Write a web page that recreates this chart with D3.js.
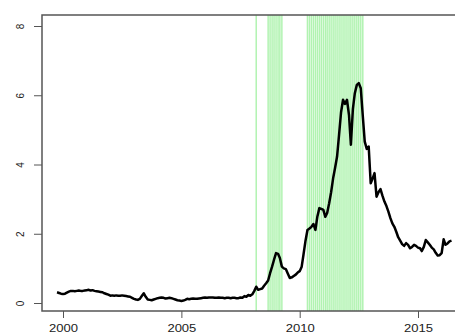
<!DOCTYPE html>
<html>
<head>
<meta charset="utf-8">
<script src="https://cdn.jsdelivr.net/npm/d3@7"></script>
<style>
  body { margin: 0; background: #fff; }
  text { font-family: "Liberation Sans", Arial, sans-serif; fill: #222; }
</style>
</head>
<body>
<div id="wrapper"></div>
<script>
// monthly values, first one is Oct 1999
const startMonth = "1999-10";
const values = [
  0.31, 0.29, 0.27,
  0.26, 0.27, 0.30, 0.33, 0.35, 0.35, 0.34, 0.35, 0.36, 0.35, 0.35, 0.36,
  0.37, 0.38, 0.36, 0.37, 0.35, 0.34, 0.33, 0.32, 0.31, 0.28, 0.26, 0.24,
  0.21, 0.22, 0.21, 0.22, 0.21, 0.21, 0.22, 0.21, 0.20, 0.19, 0.18, 0.15,
  0.12, 0.10, 0.09, 0.12, 0.20, 0.28, 0.18, 0.10, 0.09, 0.08, 0.10, 0.12,
  0.14, 0.15, 0.16, 0.15, 0.13, 0.14, 0.15, 0.14, 0.12, 0.10, 0.08, 0.07,
  0.06, 0.07, 0.09, 0.12, 0.11, 0.12, 0.13, 0.12, 0.12, 0.13, 0.14, 0.15,
  0.16, 0.15, 0.16, 0.16, 0.16, 0.15, 0.15, 0.16, 0.15, 0.15, 0.14, 0.15,
  0.15, 0.14, 0.15, 0.15, 0.14, 0.14, 0.16, 0.15, 0.20, 0.18, 0.23, 0.21,
  0.25, 0.35, 0.47, 0.38, 0.40, 0.42, 0.50, 0.57, 0.65, 0.86, 1.05, 1.25,
  1.44, 1.42, 1.30, 1.05, 1.00, 0.98, 0.85, 0.72, 0.74, 0.78, 0.82, 0.88,
  0.92, 1.05, 1.40, 1.80, 2.11, 2.15, 2.20, 2.28, 2.11, 2.50, 2.74, 2.72,
  2.69, 2.49, 2.60, 2.88, 3.20, 3.60, 3.90, 4.23, 4.86, 5.50, 5.87, 5.75,
  5.87, 5.43, 4.57, 5.60, 6.06, 6.30, 6.35, 6.20, 5.40, 4.66, 4.45, 4.52,
  3.46, 3.60, 3.75, 3.07, 3.20, 3.29, 3.10, 2.93, 2.80, 2.64, 2.45, 2.30,
  2.20, 2.05, 1.90, 1.80, 1.70, 1.65, 1.73, 1.68, 1.58, 1.62, 1.68, 1.65,
  1.60, 1.58, 1.50, 1.62, 1.82, 1.75, 1.68, 1.60, 1.55, 1.45, 1.37, 1.38,
  1.44, 1.84, 1.68, 1.72, 1.78, 1.80
];
// months marked with green vertical lines (first, last)
const flagRanges = [
  ["2008-03", "2008-03"],
  ["2008-09", "2009-04"],
  ["2010-05", "2012-09"]
];
const xTicks = [2000, 2005, 2010, 2015];
const yTicks = [0, 2, 4, 6, 8];

const parseMonth = d3.timeParse("%Y-%m");
const dateAccessor = (d, i) => d3.timeMonth.offset(parseMonth(startMonth), i);
const data = values.map((v, i) => ({ date: dateAccessor(v, i), value: v }));

const flagMonths = flagRanges.flatMap(([a, b]) =>
  d3.timeMonth.range(parseMonth(a), d3.timeMonth.offset(parseMonth(b), 1)));

const dimensions = {
  width: 455,
  height: 334,
  frame: { left: 42, top: 15, bottom: 311, right: 480 }
};

const wrapper = d3.select("#wrapper")
  .append("svg")
  .attr("width", dimensions.width)
  .attr("height", dimensions.height);

const xScale = d3.scaleTime()
  .domain([new Date(2000, 0, 1), new Date(2015, 0, 1)])
  .range([63, 418]);

const yScale = d3.scaleLinear()
  .domain([0, 8])
  .range([303, 26]);

// green month markers
wrapper.append("g")
  .selectAll("line")
  .data(flagMonths)
  .join("line")
  .attr("x1", d => xScale(d))
  .attr("x2", d => xScale(d))
  .attr("y1", dimensions.frame.top)
  .attr("y2", dimensions.frame.bottom)
  .attr("stroke", "#90ee90")
  .attr("stroke-opacity", 0.7)
  .attr("stroke-width", 1.5);

const lineGenerator = d3.line()
  .x(d => xScale(d.date))
  .y(d => yScale(d.value));

wrapper.append("path")
  .attr("d", lineGenerator(data))
  .attr("fill", "none")
  .attr("stroke", "#000")
  .attr("stroke-width", 2.5)
  .attr("stroke-linejoin", "round");

// box
wrapper.append("rect")
  .attr("x", dimensions.frame.left)
  .attr("y", dimensions.frame.top)
  .attr("width", dimensions.frame.right - dimensions.frame.left)
  .attr("height", dimensions.frame.bottom - dimensions.frame.top)
  .attr("fill", "none")
  .attr("stroke", "#555")
  .attr("stroke-width", 1.5);

// x axis
const xAxis = wrapper.append("g")
  .attr("transform", `translate(0,${dimensions.frame.bottom})`)
  .call(d3.axisBottom(xScale)
    .tickValues(xTicks.map(y => new Date(y, 0, 1)))
    .tickFormat(d3.timeFormat("%Y"))
    .tickSize(7)
    .tickPadding(7));
xAxis.select(".domain").remove();
xAxis.selectAll(".tick line").attr("stroke", "#555");
xAxis.selectAll(".tick text")
  .attr("font-size", 10)
  .attr("font-family", null)
  .attr("textLength", 29)
  .attr("lengthAdjust", "spacingAndGlyphs")
  .attr("fill", "#222");

// y axis
const yAxis = wrapper.append("g")
  .attr("transform", `translate(${dimensions.frame.left},0)`)
  .call(d3.axisLeft(yScale)
    .tickValues(yTicks)
    .tickSize(8));
yAxis.select(".domain").remove();
yAxis.selectAll(".tick line").attr("stroke", "#555");
yAxis.selectAll(".tick text")
  .attr("font-size", 10)
  .attr("font-family", null)
  .attr("fill", "#222")
  .attr("x", null)
  .attr("dy", null)
  .attr("text-anchor", "middle")
  .attr("transform", "translate(-18.5,0) rotate(-90)");
</script>
</body>
</html>
